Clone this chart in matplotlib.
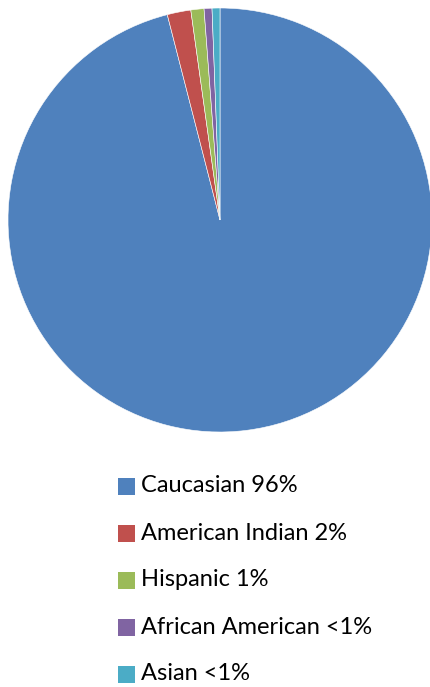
import matplotlib
matplotlib.use('Agg')
import matplotlib.pyplot as plt
from matplotlib.patches import Rectangle

# data
labels = ['Caucasian 96%', 'American Indian 2%', 'Hispanic 1%', 'African American <1%', 'Asian <1%']
shares = [96.0, 1.8, 1.0, 0.6, 0.6]
colors = ['#4F81BD', '#C0504D', '#9BBB59', '#8064A2', '#4BACC6']

W, H = 430, 687
fig = plt.figure(figsize=(W / 100, H / 100), dpi=100)

# pie, centre ~(220,220) px, radius ~212 px
cx, cy, r = 220, 220, 212
ax = fig.add_axes([(cx - r) / W, (H - cy - r) / H, 2 * r / W, 2 * r / H])
ax.pie(shares, colors=colors, startangle=90, counterclock=False,
       wedgeprops=dict(edgecolor='white', linewidth=0.4))
ax.set_xlim(-1, 1)
ax.set_ylim(-1, 1)
ax.set_aspect('equal')
ax.axis('off')

# legend drawn by hand
row_y = [486, 533, 580, 627, 674]
box = 17
for lab, col, y in zip(labels, colors, row_y):
    fig.patches.append(Rectangle((118 / W, (H - y - box / 2) / H), box / W, box / H,
                                 transform=fig.transFigure, facecolor=col, edgecolor='none'))
    fig.text(141 / W, (H - y) / H, lab, fontsize=17, family='Lato',
             va='center', ha='left', color='black')

fig.savefig('out.png', dpi=100)
